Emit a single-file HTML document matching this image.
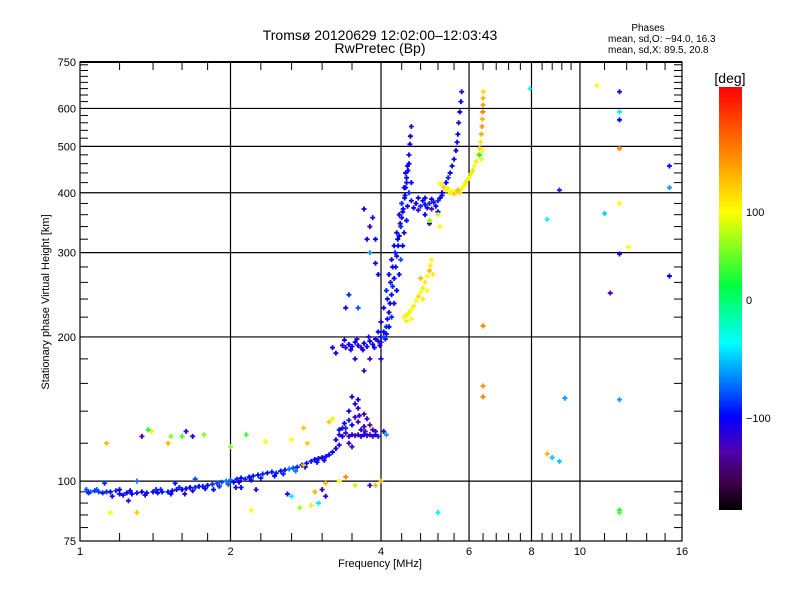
<!DOCTYPE html>
<html><head><meta charset="utf-8">
<style>
html,body{margin:0;padding:0;background:#fff;}
svg{display:block;font-family:"Liberation Sans",sans-serif;}
</style></head>
<body>
<svg id="chart" width="800" height="600" xmlns="http://www.w3.org/2000/svg">
<defs>
<linearGradient id="cbar" x1="0" y1="0" x2="0" y2="1">
<stop offset="0" stop-color="#ff0000"/>
<stop offset="0.15" stop-color="#ff8000"/>
<stop offset="0.295" stop-color="#ffff00"/>
<stop offset="0.47" stop-color="#00ff40"/>
<stop offset="0.605" stop-color="#00ffff"/>
<stop offset="0.78" stop-color="#0000ff"/>
<stop offset="0.86" stop-color="#5000b0"/>
<stop offset="0.93" stop-color="#400050"/>
<stop offset="1" stop-color="#000000"/>
</linearGradient>
</defs>
<text x="380" y="40" text-anchor="middle" font-size="14">Tromsø 20120629 12:02:00–12:03:43</text>
<text x="380" y="53" text-anchor="middle" font-size="14">RwPretec (Bp)</text>
<g font-size="10">
<text x="648" y="31" text-anchor="middle">Phases</text>
<text x="608" y="42">mean, sd,O: −94.0, 16.3</text>
<text x="608" y="53">mean, sd,X:  89.5, 20.8</text>
</g>
<g id="grid"></g>
<g id="ticks"></g>
<g id="marks"></g>
<rect x="80" y="62" width="602" height="479" fill="none" stroke="#000" stroke-width="1.2"/>
<line x1="80" y1="62" x2="682" y2="62" stroke="#000" stroke-width="2"/>
<g id="xlabels" font-size="11" text-anchor="middle"></g>
<g id="ylabels" font-size="11" text-anchor="end"></g>
<text x="380" y="567" text-anchor="middle" font-size="11">Frequency [MHz]</text>
<text transform="translate(49,302) rotate(-90)" text-anchor="middle" font-size="11">Stationary phase Virtual Height [km]</text>
<rect x="719" y="87" width="23" height="423" fill="url(#cbar)"/>
<text x="730" y="83" text-anchor="middle" font-size="14">[deg]</text>
<g id="cblabels" font-size="11"></g>
</svg>
<script>
const xMajor = [1, 2, 4, 6, 8, 10, 16];
const xGrid = [2, 4, 6, 8, 10];
const xMinor = [1.2,1.4,1.6,1.8,2.3,2.65,3.05,3.5,4.4,4.8,5.2,5.6,6.4,6.8,7.2,7.6,8.4,8.8,9.2,9.6,11.2,12.4,13.6,14.8];
const yMajor = [75, 100, 200, 300, 400, 500, 600, 750];
const yGrid = [100, 200, 300, 400, 500, 600];
const yMinor = [80,85,90,95,120,140,160,180,220,240,260,280,320,340,360,380,420,440,460,480,520,540,560,580,620,640,660,680,700,720,740];
const cbTicks = [100, 0, -100];
// echo points: frequency (MHz), virtual height (km), phase (deg)
const freqs = [];
const heights = [];
const phases = [];
const pts = [
[1.03,96,-80],[1.05,95,-75],[1.07,95.5,-90],[1.09,95,-85],[1.11,94.5,-95],[1.13,95,-90],[1.15,95,-100],[1.18,95.5,-90],[1.2,94,-105],[1.22,93.5,-110],[1.24,94.5,-100],[1.27,94,-100],[1.3,94.5,-95],[1.33,95,-100],[1.36,94.5,-95],[1.4,95,-100],[1.43,94.5,-100],[1.46,95,-100],[1.5,95,-95],[1.53,95.5,-100],[1.56,96,-110],[1.6,96,-100],[1.63,96.5,-95],[1.66,97,-100],[1.7,97,-90],[1.73,97.5,-100],[1.76,97.5,-95],[1.8,98,-100],[1.84,98.5,-90],[1.88,99,-85],[1.92,99.5,-80],[1.96,100,-70],[2.0,100.5,-75],[2.03,99.5,-100],[2.06,101,-90],[2.1,101.5,-100],[2.14,101,-90],[2.18,102,-100],[2.22,102.5,-95],[2.27,103,-100],[2.32,103.5,-90],[2.37,104,-100],[2.42,104.5,-95],[2.47,104,-90],[2.52,105,-100],[2.57,105.5,-95],[2.62,106,-70],[2.67,106.5,-80],[2.72,107,-90],[2.78,108,-100],[2.84,109,-100],[2.9,110,-95],[2.95,111,-100],[3.0,111.5,-100],[3.05,112,-100],[3.1,112.5,-95],[3.15,113.5,-100],[3.2,115,-100],[3.25,117,-100],
[1.04,94.5,-90],[1.08,96,-80],[1.16,93,-110],[1.26,95.5,-100],[1.35,93.5,-110],[1.42,96,-90],[1.52,94,-100],[1.58,97,-90],[1.68,95.5,-110],[1.78,96.5,-100],[1.9,97.5,-90],[1.98,98.5,-80],[2.08,99.5,-110],[2.2,100.5,-100],[2.3,101.5,-90],[2.45,102.5,-100],[2.55,103.5,-90],[2.7,105,-70],[2.82,107,-100],[2.98,109.5,-100],[3.08,110.5,-110],
[1.12,99,-90],[1.3,100,-70],[1.25,91,-120],[1.55,99,-95],[1.7,101,-80],[2.05,97,-110],[2.1,97,-100],[2.25,96,-110],[1.2,96,-100],[1.45,96,-90],[1.62,94,-110],[1.85,96,-100],
[3.25,122,-110],[3.3,125,-120],[3.35,124,-100],[3.4,126,-130],[3.45,124,-120],[3.5,125,-110],[3.55,124.5,-130],[3.6,125,-120],[3.65,124,-110],[3.7,125,-100],[3.75,124.5,-120],[3.8,125,-110],[3.85,124,-130],[3.9,125,-100],[3.95,124,-90],[4.1,125,-60],[4.05,127,-110],[3.35,129,-110],[3.5,131,-100],[3.6,133,-130],[3.7,130,-120],[3.55,136,-120],[3.45,140,-100],[3.55,145,-110],[3.6,142,-120],[3.7,138,-140],[3.75,135,-120],[3.4,129,-90],[3.3,128,-100],[3.45,134,-90],[3.8,131,-130],[3.65,128,-110],[3.85,128,-130],[3.9,127,-120],[3.3,119,-110],[3.45,120,-120],[3.5,118,-120],[3.5,150,-110],[3.6,148,-100],[3.38,132,-100],[3.62,137,-110],[3.72,127,-130],
[1.13,120,140],[1.37,128,20],[1.33,124,-130],[1.39,127,110],[1.52,124,60],[1.6,124,40],[1.63,127,-120],[1.68,124,-110],[1.77,125,60],[1.5,120,140],[2.15,125,40],[2.35,121,100],[2.65,122,100],[2.8,129,130],[2.85,120,130],[3.15,133,130],[3.2,135,90],[2.8,108,140],[3.1,99,140],[3.3,100,100],[3.55,98,80],[3.9,98,140],[2.0,118,60],[1.15,86,100],[1.3,86,130],[2.75,88,70],[2.9,89,90],[3.0,90,-40],[2.6,94,-110],[2.65,93,-40],[2.95,95,140],[3.05,96,-140],[3.1,93,-110],[2.2,87,100],[3.4,102,170],[4.0,100,140],[3.8,98,-120],
[3.35,192,-110],[3.4,190,-120],[3.45,193,-100],[3.5,191,-110],[3.55,195,-100],[3.6,192,-110],[3.65,190,-120],[3.7,194,-100],[3.75,191,-110],[3.8,196,-100],[3.85,193,-110],[3.9,198,-100],[3.95,196,-110],[4.0,200,-100],[4.05,205,-100],[4.1,210,-90],[4.12,218,-100],[4.15,225,-110],[4.17,235,-100],[4.2,245,-100],[4.22,255,-90],[4.25,265,-100],[4.28,280,-100],[4.3,295,-110],[4.33,310,-100],[4.35,325,-100],[4.38,340,-90],[4.4,355,-100],[4.43,370,-100],[4.46,390,-100],[4.48,410,-110],[4.5,430,-100],[4.52,455,-100],[4.55,480,-110],[4.57,505,-100],[4.58,525,-100],[4.6,550,-120],
[3.38,197,-100],[3.48,188,-110],[3.58,198,-120],[3.68,188,-100],[3.78,200,-110],[3.88,190,-100],[3.98,192,-100],[4.08,198,-110],
[4.05,200,-80],[4.1,203,-100],[4.15,210,-100],[4.2,220,-90],[4.25,235,-110],[4.3,250,-100],[4.35,270,-100],[4.38,290,-80],[4.42,310,-100],[4.45,330,-110],[4.5,350,-100],[4.52,375,-100],[4.55,400,-90],[4.6,420,-100],[4.0,195,-120],[3.95,205,-100],[4.0,215,-110],[4.05,230,-100],[4.1,250,-90],[4.15,270,-100],[4.2,290,-110],[4.25,310,-100],[4.3,330,-100],[4.35,360,-110],[4.4,380,-90],[4.45,410,-100],[4.48,440,-100],[4.55,460,-100],
[4.12,240,-100],[4.18,260,-110],[4.22,280,-100],[4.27,300,-90],[4.32,320,-100],[4.37,345,-110],[4.42,365,-100],[4.47,395,-100],[4.5,420,-110],[4.53,445,-100],
[3.95,270,-100],[3.9,285,-110],[3.8,300,-60],[3.75,320,-110],[3.7,370,-100],[3.8,340,-120],[3.85,355,-110],[3.9,320,-100],[3.6,230,-80],[3.4,230,-110],[3.45,245,-90],[3.2,190,-100],[3.25,185,-110],[3.55,180,-110],[3.7,170,-120],[3.8,180,-120],[4.0,180,-110],
[4.6,385,-100],[4.7,380,-110],[4.75,390,-100],[4.8,375,-90],[4.85,385,-100],[4.9,378,-110],[4.95,372,-100],[5.0,380,-90],[5.05,388,-100],[5.1,382,-110],[5.15,375,-100],[5.2,385,-90],[5.25,390,-100],[5.3,395,-110],[4.65,372,-100],[4.75,368,-120],[4.9,390,-100],[5.05,370,-130],[5.2,365,-100],[4.9,360,-100],[5.0,345,-140],
[5.3,400,-100],[5.35,410,-110],[5.4,420,-100],[5.45,430,-90],[5.5,440,-100],[5.55,455,-100],[5.6,470,-110],[5.65,490,-100],[5.68,510,-100],[5.7,530,-100],[5.72,560,-110],[5.75,590,-100],[5.78,620,-100],[5.8,650,-110],
[4.45,220,100],[4.5,222,110],[4.55,225,90],[4.6,228,100],[4.65,232,110],[4.7,238,100],[4.75,243,120],[4.8,248,100],[4.85,253,90],[4.9,260,110],[4.95,268,100],[5.0,275,140],[5.02,282,110],[5.05,290,100],[5.08,270,110],[4.5,216,90],[4.6,218,100],[4.85,240,110],[4.95,250,100],[4.8,265,140],
[5.25,418,100],[5.3,415,110],[5.35,410,120],[5.4,405,100],[5.45,408,90],[5.5,400,110],[5.55,403,100],[5.6,398,130],[5.65,402,110],[5.7,405,140],[5.75,400,120],[5.8,408,90],[5.85,412,100],[5.9,418,110],[5.95,425,90],[6.0,430,100],[6.05,438,110],[6.1,445,80],[6.15,455,100],[6.2,465,110],[6.25,480,100],[6.3,495,120],[6.33,510,110],[6.35,530,150],[6.37,550,160],[6.38,570,140],[6.39,590,170],[6.4,610,150],[6.4,630,140],[6.41,650,120],[6.38,490,100],[6.35,470,90],[5.2,360,80],[5.25,340,100],[5.0,350,60],[6.3,480,20],
[7.95,660,-40],[8.6,352,-40],[9.1,405,-90],[10.8,670,100],[12.0,650,-110],[12.0,590,-40],[12.0,568,-100],[12.0,495,170],[12.0,380,100],[12.0,298,-110],[11.5,247,-130],[11.2,362,-50],[12.5,308,100],[15.1,455,-100],[15.1,410,-60],[15.1,268,-100],[6.4,211,170],[6.4,158,160],[6.4,150,170],[8.6,114,140],[8.8,112,-50],[9.1,110,-50],[9.33,149,-60],[12.0,148,-60],[12.0,87,20],[12.0,86,40],[5.2,86,-40]
];
pts.forEach(p => { freqs.push(p[0]); heights.push(p[1]); phases.push(p[2]); });

const NS = "http://www.w3.org/2000/svg";
const X0 = 80, X1 = 682, FMIN = 1, FMAX = 16;
const Y0 = 541, Y1 = 62, HMIN = 75, HMAX = 750;
function xScale(f) { return X0 + (X1 - X0) * Math.log(f / FMIN) / Math.log(FMAX / FMIN); }
function yScale(h) { return Y0 - (Y0 - Y1) * Math.log(h / HMIN) / Math.log(HMAX / HMIN); }
function cbY(ph) { return ph >= 0 ? 300 - 0.88 * ph : 300 - 1.18 * ph; }
const cStops = [[87,[255,0,0]],[150,[255,128,0]],[212,[255,255,0]],[286,[0,255,64]],[343,[0,255,255]],[417,[0,0,255]],[451,[80,0,176]],[481,[64,0,80]],[510,[0,0,0]]];
function colorOf(ph) {
  let y = Math.max(87, Math.min(510, cbY(ph)));
  for (let i = 0; i < cStops.length - 1; i++) {
    const a = cStops[i], b = cStops[i + 1];
    if (y >= a[0] && y <= b[0]) {
      const t = (y - a[0]) / (b[0] - a[0]);
      const c = a[1].map((v, k) => Math.round(v + (b[1][k] - v) * t));
      return "rgb(" + c.join(",") + ")";
    }
  }
  return "#000";
}
function mk(tag, attrs, parent) {
  const e = document.createElementNS(NS, tag);
  for (const k in attrs) e.setAttribute(k, attrs[k]);
  parent.appendChild(e);
  return e;
}
const grid = document.getElementById("grid");
xGrid.forEach(f => {
  const x = xScale(f);
  const l = mk("line", {x1: x, y1: Y1, x2: x, y2: Y0, stroke: "#000", "stroke-width": 1.2}, grid);
  
  
});
yGrid.forEach(h => {
  const y = yScale(h);
  const l = mk("line", {x1: X0, y1: y, x2: X1, y2: y, stroke: "#000", "stroke-width": 1.2}, grid);
  
  
});
const ticks = document.getElementById("ticks");
xMinor.forEach(f => {
  const x = xScale(f);
  [[Y0, Y0 - 8], [Y1, Y1 + 8]].forEach(s => {
    const l = mk("line", {x1: x, y1: s[0], x2: x, y2: s[1], stroke: "#000", "stroke-width": 1}, ticks);
    
    
  });
});
yMinor.forEach(h => {
  const y = yScale(h);
  [[X0, X0 + 8], [X1, X1 - 8]].forEach(s => {
    const l = mk("line", {x1: s[0], y1: y, x2: s[1], y2: y, stroke: "#000", "stroke-width": 1}, ticks);
    
    
  });
});
const xl = document.getElementById("xlabels");
xMajor.forEach(f => {
  const t = mk("text", {x: xScale(f), y: 555}, xl);
  t.textContent = f;
  
  
});
const yl = document.getElementById("ylabels");
yMajor.forEach(h => {
  const t = mk("text", {x: 76, y: yScale(h) + 4}, yl);
  t.textContent = h;
  
  
});
const cbl = document.getElementById("cblabels");
cbTicks.forEach(v => {
  const t = mk("text", {x: 746, y: cbY(v) + 4}, cbl);
  t.textContent = v < 0 ? "−" + Math.abs(v) : String(v);
  
  
});
const marks = document.getElementById("marks");
for (let i = 0; i < freqs.length; i++) {
  const x = xScale(freqs[i]), y = yScale(heights[i]);
  const p = mk("path", {d: "M" + (x - 2.5) + " " + y + "h5M" + x + " " + (y - 2.5) + "v5", stroke: colorOf(phases[i]), "stroke-width": 1.8, fill: "none"}, marks);
  
  
}
</script>
</body></html>
